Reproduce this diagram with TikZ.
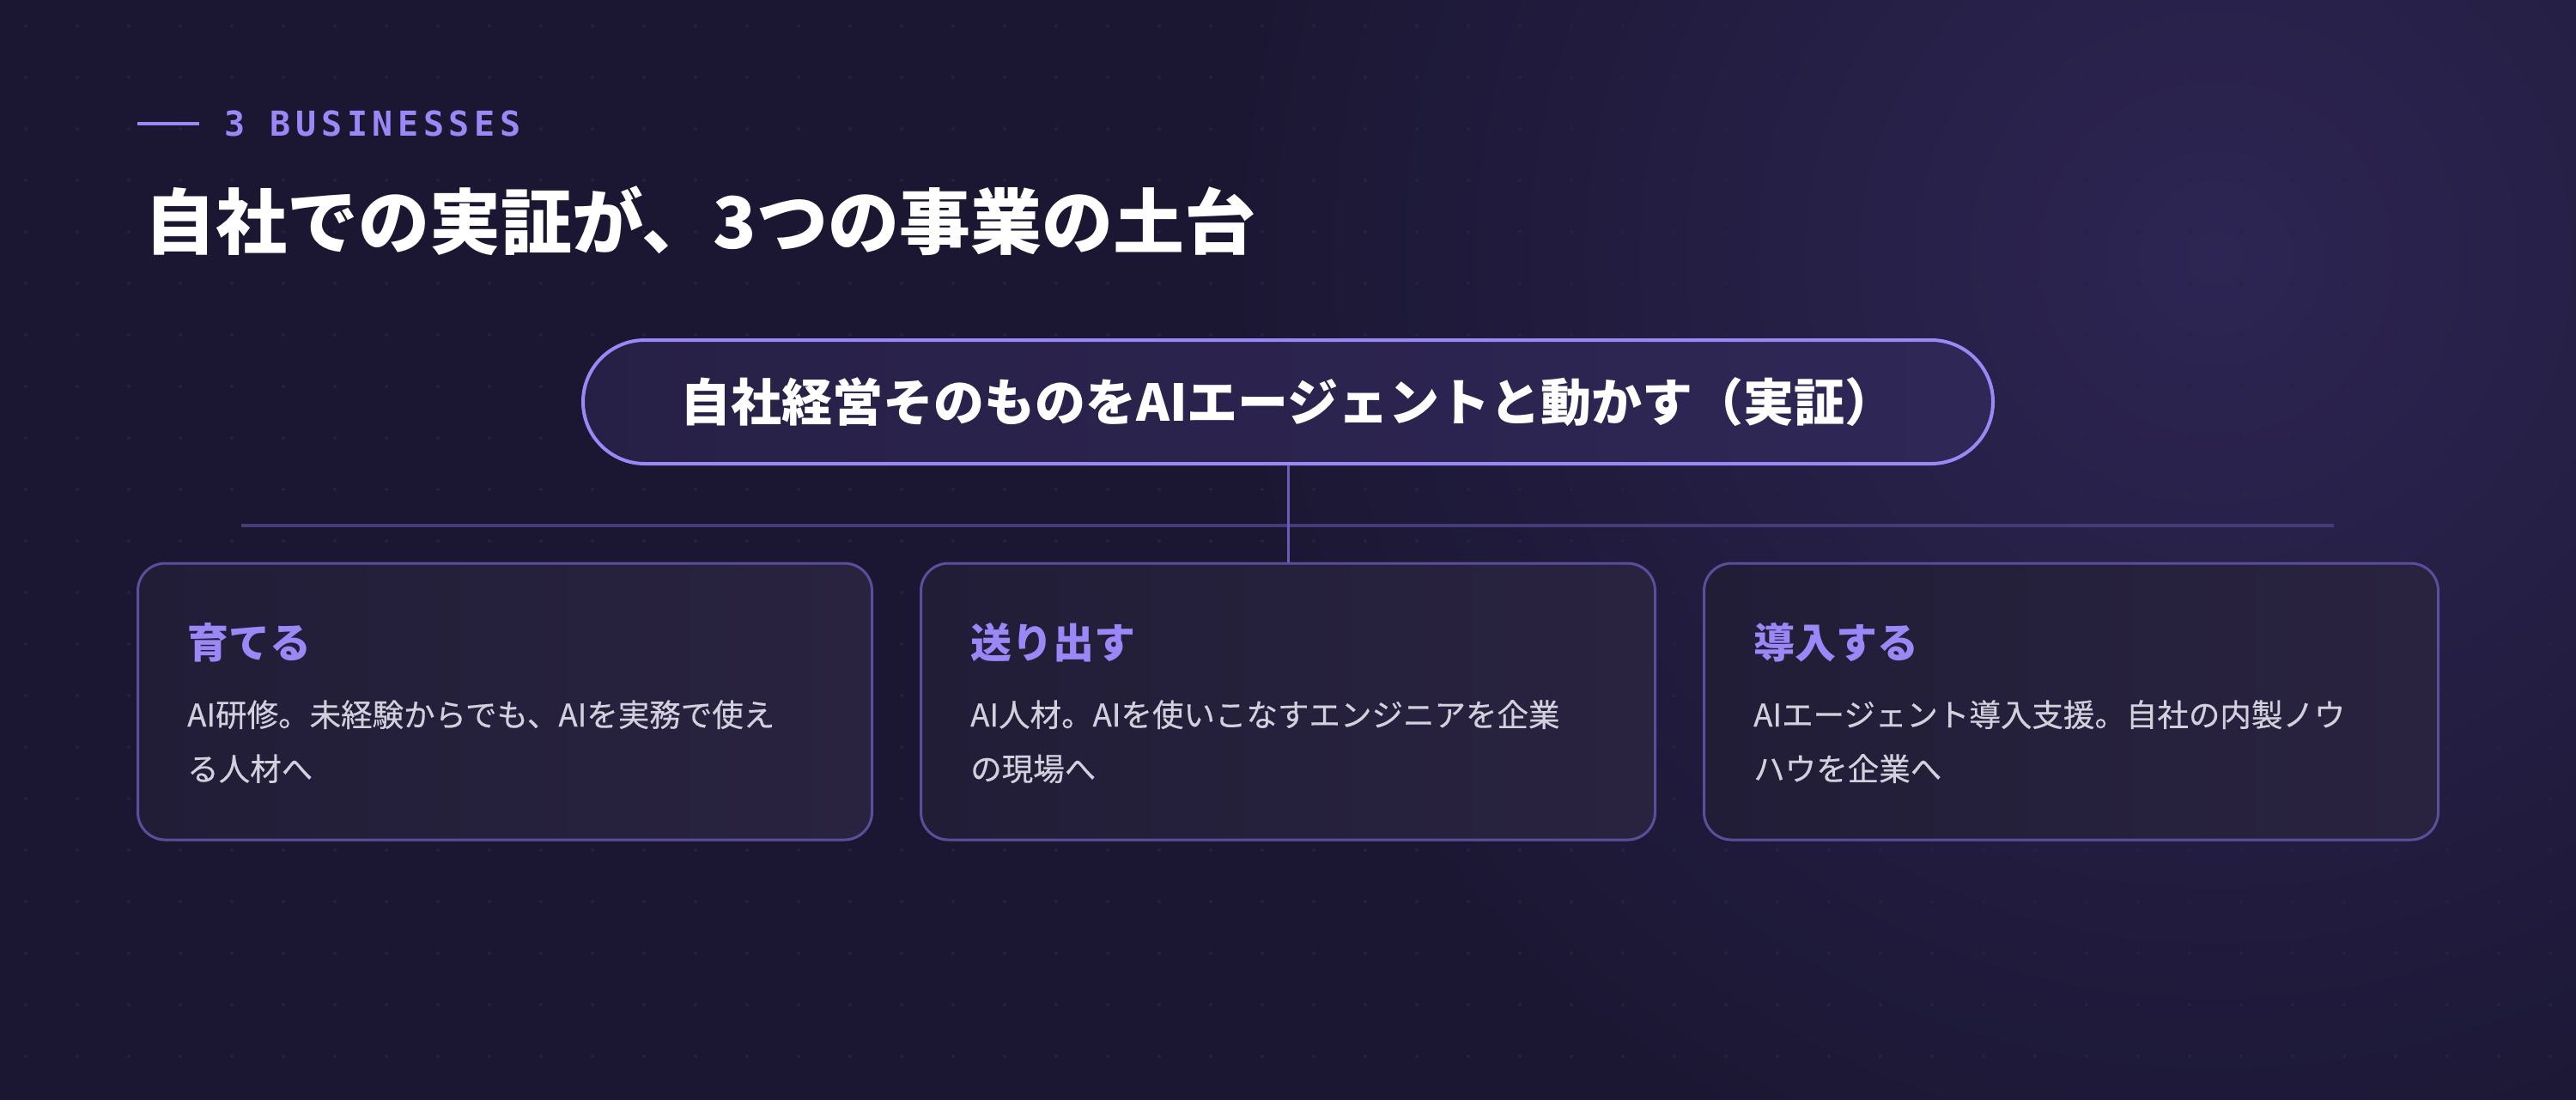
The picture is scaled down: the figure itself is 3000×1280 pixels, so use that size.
\documentclass[tikz,border=0pt]{standalone}
\usepackage{fontspec}
\newfontfamily\cjk{Noto Sans CJK JP}
\newfontfamily\cjkbody[FakeBold=0.4]{Noto Sans CJK JP}
\newfontfamily\labelfont[LetterSpace=14]{DejaVu Sans Mono}
\definecolor{bg}{HTML}{1B1733}
\definecolor{glow}{HTML}{2D2553}
\definecolor{dotc}{HTML}{26223F}
\definecolor{accent}{HTML}{9B87F5}
\definecolor{hlinec}{HTML}{463C78}
\definecolor{vlinec}{HTML}{6B5CB5}
\definecolor{cardline}{HTML}{5B4F9C}
\definecolor{cardA}{HTML}{211D37}
\definecolor{cardB}{HTML}{29233F}
\definecolor{pillA}{HTML}{272046}
\definecolor{pillB}{HTML}{2F2756}
\definecolor{bodyc}{HTML}{D3D0DE}
\begin{document}
\begin{tikzpicture}[x=1pt,y=-1pt,
  cardbox/.style={draw=cardline, line width=3pt, left color=cardA, right color=cardB,
    rounded corners=32pt, minimum width=855pt, minimum height=322pt, inner sep=0pt},
  pillbox/.style={draw=accent, line width=4pt, left color=pillA, right color=pillB,
    rounded corners=72pt, minimum width=1642pt, minimum height=144pt, inner sep=0pt, text=white},
  cardtitle/.style={anchor=base west, inner sep=0pt, text=accent, font={\fontsize{48}{56}\cjk\bfseries}},
  cardbody/.style={anchor=base west, inner sep=0pt, text=bodyc, font={\fontsize{36.5}{42}\cjkbody}},
  hline/.style={draw=hlinec, line width=3.5pt},
  vline/.style={draw=vlinec, line width=3pt},
  accentline/.style={draw=accent, line width=4pt}]
\useasboundingbox (0,0) rectangle (3000,1280);
\fill[bg] (-20,-20) rectangle (3020,1300);
\shade[inner color=glow, outer color=bg] (2580,300) circle (1150pt);
\foreach \i in {0,...,49} {\foreach \j in {0,...,20} {\fill[dotc] (30+60*\i,30+60*\j) circle (2pt);}}
% header
\coordinate (dashL) at (160,144);
\coordinate (dashR) at (232,144);
\draw[accentline] (dashL) -- (dashR);
\node[anchor=base west, inner sep=0pt, text=accent, font={\fontsize{40}{48}\labelfont\bfseries}] (kicker) at (261,158) {3 BUSINESSES};
\node[anchor=base west, inner sep=0pt, text=white, font={\fontsize{83}{100}\cjk\bfseries}] (title) at (168,289) {自社での実証が、3つの事業の土台};
% cards
\node[cardbox] (c1) at (588,817) {};
\node[cardbox] (c2) at (1500,817) {};
\node[cardbox] (c3) at (2412,817) {};
% connectors
\coordinate (hl) at (281,612);
\coordinate (hr) at (2718,612);
\draw[hline] (hl) -- (hr);
\node[pillbox, font={\fontsize{59}{70}\cjk\bfseries}] (pill) at (1500,468) {自社経営そのものをAIエージェントと動かす（実証）};
\draw[vline] (pill.south) -- (c2.north);
% card texts
\node[cardtitle] (t1) at ([xshift=59pt]c1.west |- 0,766) {育てる};
\node[cardbody] (b1a) at ([xshift=59pt]c1.west |- 0,846) {AI研修。未経験からでも、AIを実務で使え};
\node[cardbody] (b1b) at ([xshift=59pt]c1.west |- 0,909) {る人材へ};
\node[cardtitle] (t2) at ([xshift=59pt]c2.west |- 0,766) {送り出す};
\node[cardbody] (b2a) at ([xshift=59pt]c2.west |- 0,846) {AI人材。AIを使いこなすエンジニアを企業};
\node[cardbody] (b2b) at ([xshift=59pt]c2.west |- 0,909) {の現場へ};
\node[cardtitle] (t3) at ([xshift=59pt]c3.west |- 0,766) {導入する};
\node[cardbody] (b3a) at ([xshift=59pt]c3.west |- 0,846) {AIエージェント導入支援。自社の内製ノウ};
\node[cardbody] (b3b) at ([xshift=59pt]c3.west |- 0,909) {ハウを企業へ};
\end{tikzpicture}
\end{document}
